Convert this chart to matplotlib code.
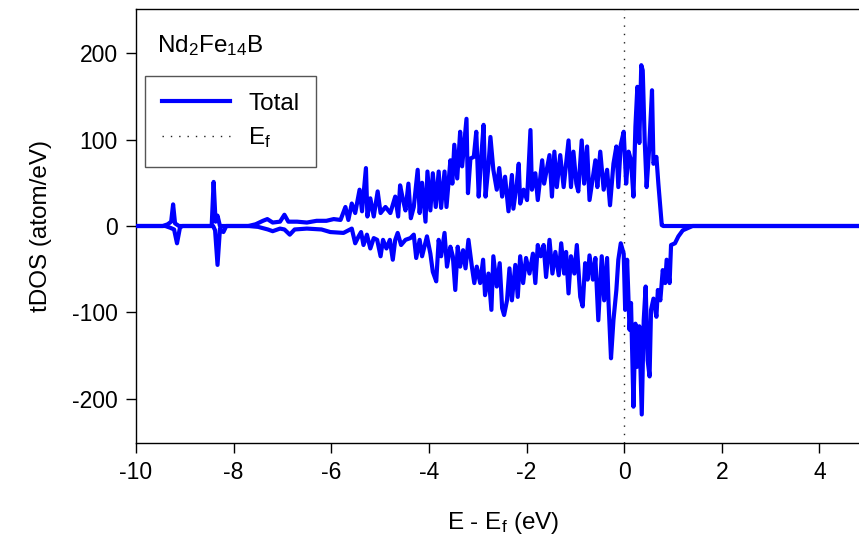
"""Total DOS of Nd2Fe14B, spin up above the axis and spin down below it."""

import matplotlib

matplotlib.use("Agg")
import matplotlib.pyplot as plt

# energies (eV, relative to E_f) and DOS values
E_UP = [-10.0, -9.45, -9.35, -9.28, -9.24, -9.20, -9.12, -8.45, -8.41, -8.37,
        -8.33, -8.28, -7.70, -7.55, -7.40, -7.31, -7.20, -7.05, -6.96, -6.88,
        -6.70, -6.50, -6.30, -6.10, -5.95, -5.81, -5.71, -5.65, -5.58, -5.51,
        -5.42, -5.37, -5.29, -5.26, -5.20, -5.13, -5.05, -4.99, -4.89, -4.79,
        -4.69, -4.63, -4.59, -4.53, -4.48, -4.42, -4.37, -4.31, -4.23, -4.19,
        -4.14, -4.07, -4.03, -3.97, -3.92, -3.86, -3.80, -3.75, -3.68, -3.64,
        -3.56, -3.52, -3.48, -3.42, -3.36, -3.32, -3.23, -3.20, -3.15, -3.08,
        -3.03, -2.98, -2.93, -2.88, -2.84, -2.78, -2.74, -2.68, -2.61, -2.56,
        -2.50, -2.44, -2.37, -2.30, -2.27, -2.20, -2.16, -2.13, -2.06, -1.99,
        -1.92, -1.89, -1.82, -1.77, -1.68, -1.64, -1.60, -1.53, -1.48, -1.43,
        -1.38, -1.31, -1.24, -1.19, -1.14, -1.09, -1.04, -0.98, -0.94, -0.87,
        -0.82, -0.76, -0.71, -0.64, -0.59, -0.55, -0.49, -0.42, -0.35, -0.29,
        -0.22, -0.16, -0.12, -0.07, -0.01, 0.04, 0.09, 0.14, 0.19, 0.23,
        0.27, 0.31, 0.35, 0.38, 0.42, 0.46, 0.51, 0.57, 0.60, 0.66,
        0.70, 0.77, 0.80, 4.80]
DOS_UP = [0, 0, 2, 5, 25, 3, 0, 0, 51, 5,
          12, 0, 0, 2, 6, 8, 4, 5, 13, 5,
          5, 4, 6, 6, 8, 7, 22, 7, 26, 15,
          42, 17, 67, 11, 32, 11, 40, 15, 22, 15,
          34, 11, 47, 30, 18, 49, 9, 22, 65, 15,
          50, 5, 63, 18, 61, 22, 63, 21, 63, 22,
          76, 49, 94, 55, 109, 69, 124, 38, 78, 80,
          109, 34, 78, 117, 34, 70, 103, 65, 42, 67,
          34, 57, 17, 59, 20, 49, 72, 26, 42, 30,
          111, 42, 61, 30, 76, 49, 61, 82, 34, 86,
          45, 82, 45, 72, 99, 45, 86, 49, 40, 99,
          49, 92, 30, 57, 76, 45, 86, 42, 65, 24,
          72, 92, 45, 94, 109, 49, 86, 76, 34, 115,
          161, 96, 186, 180, 99, 45, 88, 157, 72, 80,
          49, 1, 0, 0]

E_DN = [-10.0, -9.40, -9.30, -9.22, -9.16, -9.10, -9.05, -8.42, -8.38, -8.33,
        -8.28, -8.21, -8.15, -7.70, -7.50, -7.30, -7.20, -7.05, -6.96, -6.85,
        -6.75, -6.50, -6.20, -6.02, -5.75, -5.58, -5.51, -5.44, -5.39, -5.34,
        -5.27, -5.20, -5.13, -5.06, -4.99, -4.94, -4.87, -4.80, -4.74, -4.69,
        -4.64, -4.57, -4.48, -4.38, -4.31, -4.26, -4.19, -4.14, -4.04, -3.97,
        -3.92, -3.85, -3.80, -3.75, -3.68, -3.63, -3.56, -3.51, -3.46, -3.41,
        -3.36, -3.30, -3.25, -3.19, -3.12, -3.07, -3.02, -2.95, -2.89, -2.85,
        -2.78, -2.72, -2.68, -2.61, -2.55, -2.50, -2.46, -2.40, -2.35, -2.30,
        -2.23, -2.18, -2.13, -2.07, -2.01, -1.94, -1.87, -1.82, -1.77, -1.71,
        -1.65, -1.60, -1.53, -1.47, -1.41, -1.34, -1.29, -1.23, -1.19, -1.14,
        -1.09, -1.02, -0.97, -0.90, -0.85, -0.80, -0.75, -0.71, -0.64, -0.59,
        -0.53, -0.46, -0.41, -0.35, -0.32, -0.27, -0.22, -0.16, -0.12, -0.07,
        -0.01, 0.02, 0.06, 0.11, 0.14, 0.19, 0.23, 0.26, 0.31, 0.36,
        0.40, 0.44, 0.48, 0.52, 0.55, 0.60, 0.66, 0.69, 0.74, 0.79,
        0.84, 0.87, 0.93, 0.96, 1.04, 1.11, 1.20, 1.28, 1.40, 4.80]
DOS_DN = [0, 0, -2, -4, -20, -2, 0, 0, -5, -45,
          -3, -7, 0, 0, -1, -4, -6, -3, -4, -10,
          -4, -3, -4, -7, -8, -3, -20, -12, -7, -22,
          -10, -26, -14, -16, -35, -16, -26, -16, -39, -16,
          -8, -22, -16, -14, -10, -37, -16, -35, -12, -32,
          -53, -64, -16, -35, -8, -47, -24, -35, -74, -24,
          -47, -28, -49, -16, -47, -66, -47, -66, -39, -80,
          -55, -97, -35, -70, -43, -95, -103, -86, -49, -86,
          -45, -82, -35, -66, -37, -55, -32, -66, -22, -35,
          -22, -59, -16, -55, -30, -57, -20, -55, -30, -78,
          -35, -55, -22, -82, -93, -43, -62, -34, -62, -37,
          -109, -35, -86, -37, -89, -153, -109, -74, -39, -20,
          -32, -97, -39, -120, -89, -209, -113, -163, -116, -218,
          -109, -70, -155, -174, -97, -84, -105, -74, -86, -51,
          -66, -39, -66, -22, -20, -12, -5, -3, 0, 0]

XTICKS = [-10, -8, -6, -4, -2, 0, 2, 4]
YTICKS = [-200, -100, 0, 100, 200]

plt.rcParams["font.family"] = ["Liberation Sans", "DejaVu Sans"]
plt.rcParams["mathtext.fontset"] = "custom"
plt.rcParams["mathtext.rm"] = "Liberation Sans"
plt.rcParams["mathtext.it"] = "Liberation Sans"

BLUE = "#0000ff"

fig = plt.figure(figsize=(8.59, 5.35), dpi=100)
ax = fig.add_axes([136 / 859, 1 - 443 / 535, 1 - 136 / 859, (443 - 9) / 535])

ax.plot(E_UP, DOS_UP, color=BLUE, lw=3.0, label="Total", zorder=3,
        solid_joinstyle="round")
ax.plot(E_DN, DOS_DN, color=BLUE, lw=3.0, zorder=3, solid_joinstyle="round")
ax.axvline(0, color="#222222", lw=1.0, ls=(0, (1, 5)), label="E$_\\mathrm{f}$",
           zorder=2)

ax.set_xlim(-10, 4.81)
ax.set_ylim(-251, 251)
ax.set_xticks(XTICKS)
ax.set_yticks(YTICKS)
ax.set_xticklabels([str(t) for t in XTICKS])
ax.set_yticklabels([str(t) for t in YTICKS])
ax.tick_params(direction="out", length=7, width=1, labelsize=16.5, pad=6)
ax.spines["right"].set_visible(False)
for s in ("left", "bottom", "top"):
    ax.spines[s].set_linewidth(1.0)

ax.set_xlabel("E - E$_\\mathrm{f}$ (eV)", fontsize=17.5)
ax.set_ylabel("tDOS (atom/eV)", fontsize=17.5)
ax.xaxis.set_label_coords(0.5075, -0.155)
ax.yaxis.set_label_coords(-0.116, 0.5)

ax.text(0.029, 0.915, "Nd$_2$Fe$_{14}$B", transform=ax.transAxes,
        fontsize=17.5, va="center", ha="left")

leg = ax.legend(loc="upper left", bbox_to_anchor=(0.0125, 0.846),
                borderaxespad=0, fontsize=17.5, fancybox=False, framealpha=1,
                edgecolor="#555555", handlelength=2.8, handletextpad=0.75,
                labelspacing=0.42, borderpad=0.7)
leg.get_frame().set_linewidth(1.0)

fig.savefig("out.png", dpi=100)
